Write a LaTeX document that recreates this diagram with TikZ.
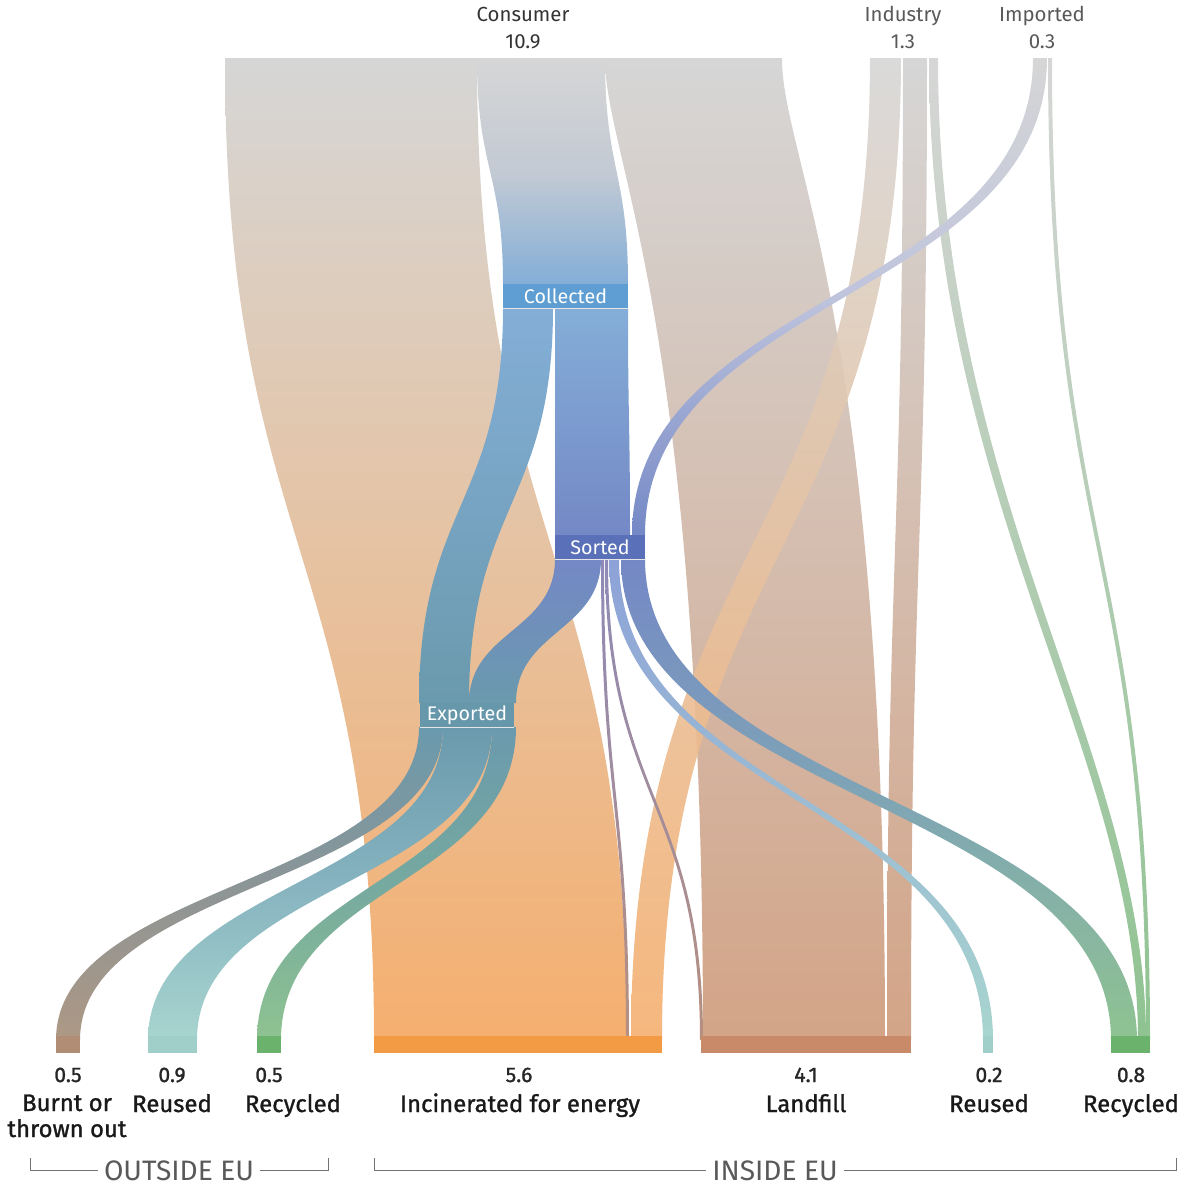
\documentclass[tikz,border=0pt]{standalone}
\usepackage{fontspec}
\setmainfont{Fira Sans}
\newfontfamily\labelfont{Fira Sans}[FakeBold=1.2]
\usepackage{tikz}

\definecolor{srcgrey}{HTML}{D6D6D6}
\definecolor{incband}{HTML}{F5AF6F}
\definecolor{incbar}{HTML}{F39A45}
\definecolor{landband}{HTML}{D3A487}
\definecolor{landbar}{HTML}{C98A6A}
\definecolor{recband}{HTML}{8FC391}
\definecolor{recbar}{HTML}{6BB36C}
\definecolor{recmid}{HTML}{7FA5B5}
\definecolor{recmidout}{HTML}{76A99F}
\definecolor{reuseband}{HTML}{A8D5CF}
\definecolor{reusemid}{HTML}{86B3BF}
\definecolor{reusebar}{HTML}{9FCFC8}
\definecolor{reuseblue}{HTML}{8DA2D8}
\definecolor{burntband}{HTML}{AE9884}
\definecolor{burntmid}{HTML}{8C9596}
\definecolor{burntbar}{HTML}{B08D74}
\definecolor{colmid}{HTML}{C3CAD4}
\definecolor{colband}{HTML}{84AED7}
\definecolor{colbox}{HTML}{5E9ED2}
\definecolor{sortband}{HTML}{7488C6}
\definecolor{sortbox}{HTML}{5A70B8}
\definecolor{impmid}{HTML}{BFC4DD}
\definecolor{expband}{HTML}{6A9AAD}
\definecolor{expbox}{HTML}{6797AA}
\definecolor{hair}{HTML}{8E8AB8}
\definecolor{hairend}{HTML}{B69080}

% band between two stages: style, top x left/right, top y, bottom x left/right, bottom y, control y top/bottom
\newcommand{\flow}[9]{%
  \path[#1] (#2,#4) .. controls (#2,#8) and (#5,#9) .. (#5,#7)
    -- (#6,#7) .. controls (#6,#9) and (#3,#8) .. (#3,#4) -- cycle;}

\tikzset{
  val/.style={anchor=base, font=\labelfont\fontsize{15}{16}\selectfont, text=black!85},
  lab/.style={anchor=base, align=center, font=\labelfont\fontsize{17}{18.5}\selectfont, text=black!90},
  src/.style={anchor=base, font=\fontsize{14.5}{16}\selectfont, text=black!65},
  stage/.style={minimum height=0.6cm, inner sep=0pt, text=white, font=\fontsize{14}{16}\selectfont},
  region/.style={anchor=base, font=\fontsize{20}{22}\selectfont, text=black!65, inner xsep=4pt},
  bracket/.style={draw=black!55, line width=0.6pt}
}

\begin{document}
\begin{tikzpicture}[x=0.025cm, y=-0.025cm]
  \useasboundingbox (0,0) rectangle (1181,1186);

  % consumer and industry streams
  \flow{top color=srcgrey, bottom color=incband}{225}{477}{58}{374}{627}{1040}{549}{549}
  \flow{top color=srcgrey, bottom color=landband}{605}{782}{58}{703}{885}{1040}{160}{310}
  \flow{top color=srcgrey, bottom color=landband}{903}{927}{58}{887}{911}{1040}{549}{549}
  \flow{top color=srcgrey, bottom color=incband, fill opacity=.9}{870}{901}{58}{631}{662}{1040}{549}{549}
  \flow{top color=srcgrey, bottom color=recband}{929}{938}{58}{1138}{1146}{1040}{500}{750}
  \flow{top color=srcgrey, bottom color=recband}{1048}{1052}{58}{1146}{1150}{1040}{549}{549}

  % collected
  \flow{top color=srcgrey, bottom color=colband, middle color=colmid}{477}{605}{58}{503}{628}{284}{171}{171}
  \flow{top color=srcgrey, bottom color=sortband, middle color=impmid}{1033}{1047}{58}{632}{645}{535}{296}{296}
  \flow{top color=colband, bottom color=expband}{503}{553}{308}{419}{469}{703}{505}{505}
  \flow{top color=colband, bottom color=sortband}{555}{628}{308}{555}{630}{535}{420}{420}

  % sorted
  \flow{top color=sortband, bottom color=expband}{555}{601}{559}{469}{516}{703}{631}{631}
  \flow{top color=hair, bottom color=hairend}{601}{604}{559}{626}{629}{1040}{800}{800}
  \flow{top color=hair, bottom color=hairend}{605}{608}{559}{700}{703}{1040}{800}{800}
  \flow{top color=reuseblue, bottom color=reuseband}{609}{619}{559}{983}{993}{1040}{800}{800}
  \flow{top color=sortband, bottom color=recband, middle color=recmid}{621}{645}{559}{1111}{1137}{1040}{800}{800}

  % exported
  \flow{top color=expband, bottom color=burntband, middle color=burntmid}{419}{443}{727}{56}{80}{1040}{884}{884}
  \flow{top color=expband, bottom color=reuseband, middle color=reusemid}{443}{492}{727}{148}{197}{1040}{884}{884}
  \flow{top color=expband, bottom color=recband, middle color=recmidout}{492}{516}{727}{257}{281}{1040}{884}{884}

  \foreach \a/\b/\c in {56/80/burntbar, 148/197/reusebar, 257/281/recbar, 374/662/incbar,
      701/911/landbar, 983/993/reusebar, 1111/1150/recbar}{
    \fill[\c] (\a,1036) rectangle (\b,1053);
  }

  \node[stage, fill=colbox, minimum width=3.125cm] (collected) at (565.5,296) {Collected};
  \node[stage, fill=sortbox, minimum width=2.25cm] (sorted) at (600,547) {Sorted};
  \node[stage, fill=expbox, minimum width=2.35cm] (exported) at (467,715) {Exported};
  \foreach \n in {collected, sorted, exported}
    \draw[white!80!gray, line width=0.6pt] (\n.south west) -- (\n.south east);

  \node[src, text=black!80] (consumer) at (523,21) {Consumer};
  \node[src, text=black!80] (consumer-v) at (523,48) {10.9};
  \node[src] (industry) at (903,21) {Industry};
  \node[src] (industry-v) at (903,48) {1.3};
  \node[src] (imported) at (1042,21) {Imported};
  \node[src] (imported-v) at (1042,48) {0.3};

  \foreach \x/\v/\n in {68/0.5/burnt, 172/0.9/reuse-out, 269/0.5/recycle-out, 519/5.6/incin,
      806/4.1/landfill, 989/0.2/reuse-in, 1131/0.8/recycle-in}{
    \node[val] (v-\n) at (\x,1082) {\v};
  }
  \node[lab] (l-burnt) at (67,1137) {Burnt or\\thrown out};
  \foreach \x/\t/\n in {172/Reused/reuse-out, 293/Recycled/recycle-out, 520/Incinerated for energy/incin,
      806/Landfill/landfill, 989/Reused/reuse-in, 1131/Recycled/recycle-in}{
    \node[lab] (l-\n) at (\x,1112) {\t};
  }

  \node[region] (outside) at (179,1180) {OUTSIDE EU};
  \node[region] (inside) at (775,1180) {INSIDE EU};
  \draw[bracket] (30,1158) |- (outside.west);
  \draw[bracket] (328,1158) |- (outside.east);
  \draw[bracket] (374,1158) |- (inside.west);
  \draw[bracket] (1176,1158) |- (inside.east);
\end{tikzpicture}
\end{document}
